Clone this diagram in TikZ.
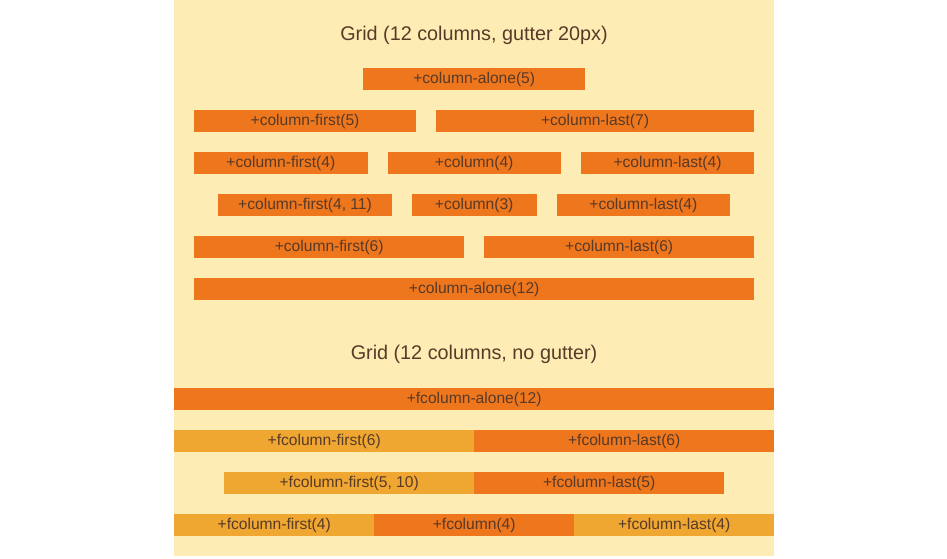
\documentclass[tikz,border=0pt]{standalone}
\usepackage{fontspec}
\setmainfont{Liberation Sans}
\usepackage{xcolor}
\usetikzlibrary{positioning}
\definecolor{panelyellow}{RGB}{253,237,180}
\definecolor{darkorange}{RGB}{238,118,29}
\definecolor{lightorange}{RGB}{239,167,50}
\definecolor{labelbrown}{RGB}{88,58,40}
\tikzset{
  colbox/.style={fill=#1, minimum height=22pt, inner sep=0pt, anchor=north west,
    text=labelbrown, font=\fontsize{15.6}{18}\selectfont},
  colbox/.default=darkorange,
  gridtitle/.style={text=labelbrown, font=\fontsize{19.8}{24}\selectfont}
}

\begin{document}
\begin{tikzpicture}[x=1pt, y=-1pt]
  \useasboundingbox (0,0) rectangle (947,558);
  \fill[white] (0,0) rectangle (947,558);
  \fill[panelyellow] (174,0) rectangle (774,556);

  % grid with gutter
  \node[gridtitle] (titleGutter) at (474,35) {Grid (12 columns, gutter 20px)};

  \node[colbox, minimum width=221.67pt] (gAlone5) at (363.17,68) {+column-alone(5)};

  \node[colbox, minimum width=221.67pt] (gFirst5) at (194,110) {+column-first(5)};
  \node[colbox, minimum width=318.33pt] (gLast7) at (435.67,110) {+column-last(7)};

  \node[colbox, minimum width=173.33pt] (gFirst4) at (194,152) {+column-first(4)};
  \node[colbox, minimum width=173.33pt] (gCol4) at (387.33,152) {+column(4)};
  \node[colbox, minimum width=173.33pt] (gLast4) at (580.67,152) {+column-last(4)};

  \node[colbox, minimum width=173.33pt] (gFirst411) at (218.17,194) {+column-first(4, 11)};
  \node[colbox, minimum width=125pt] (gCol3) at (411.5,194) {+column(3)};
  \node[colbox, minimum width=173.33pt] (gLast4b) at (556.5,194) {+column-last(4)};

  \node[colbox, minimum width=270pt] (gFirst6) at (194,236) {+column-first(6)};
  \node[colbox, minimum width=270pt] (gLast6) at (484,236) {+column-last(6)};

  \node[colbox, minimum width=560pt] (gAlone12) at (194,278) {+column-alone(12)};

  % grid without gutter
  \node[gridtitle] (titleNoGutter) at (474,354) {Grid (12 columns, no gutter)};

  \node[colbox, minimum width=600pt] (fAlone12) at (174,388) {+fcolumn-alone(12)};

  \node[colbox=lightorange, minimum width=300pt] (fFirst6) at (174,430) {+fcolumn-first(6)};
  \node[colbox, minimum width=300pt] (fLast6) at (474,430) {+fcolumn-last(6)};

  \node[colbox=lightorange, minimum width=250pt] (fFirst510) at (224,472) {+fcolumn-first(5, 10)};
  \node[colbox, minimum width=250pt] (fLast5) at (474,472) {+fcolumn-last(5)};

  \node[colbox=lightorange, minimum width=200pt] (fFirst4) at (174,514) {+fcolumn-first(4)};
  \node[colbox, minimum width=200pt] (fCol4) at (374,514) {+fcolumn(4)};
  \node[colbox=lightorange, minimum width=200pt] (fLast4) at (574,514) {+fcolumn-last(4)};
\end{tikzpicture}
\end{document}
